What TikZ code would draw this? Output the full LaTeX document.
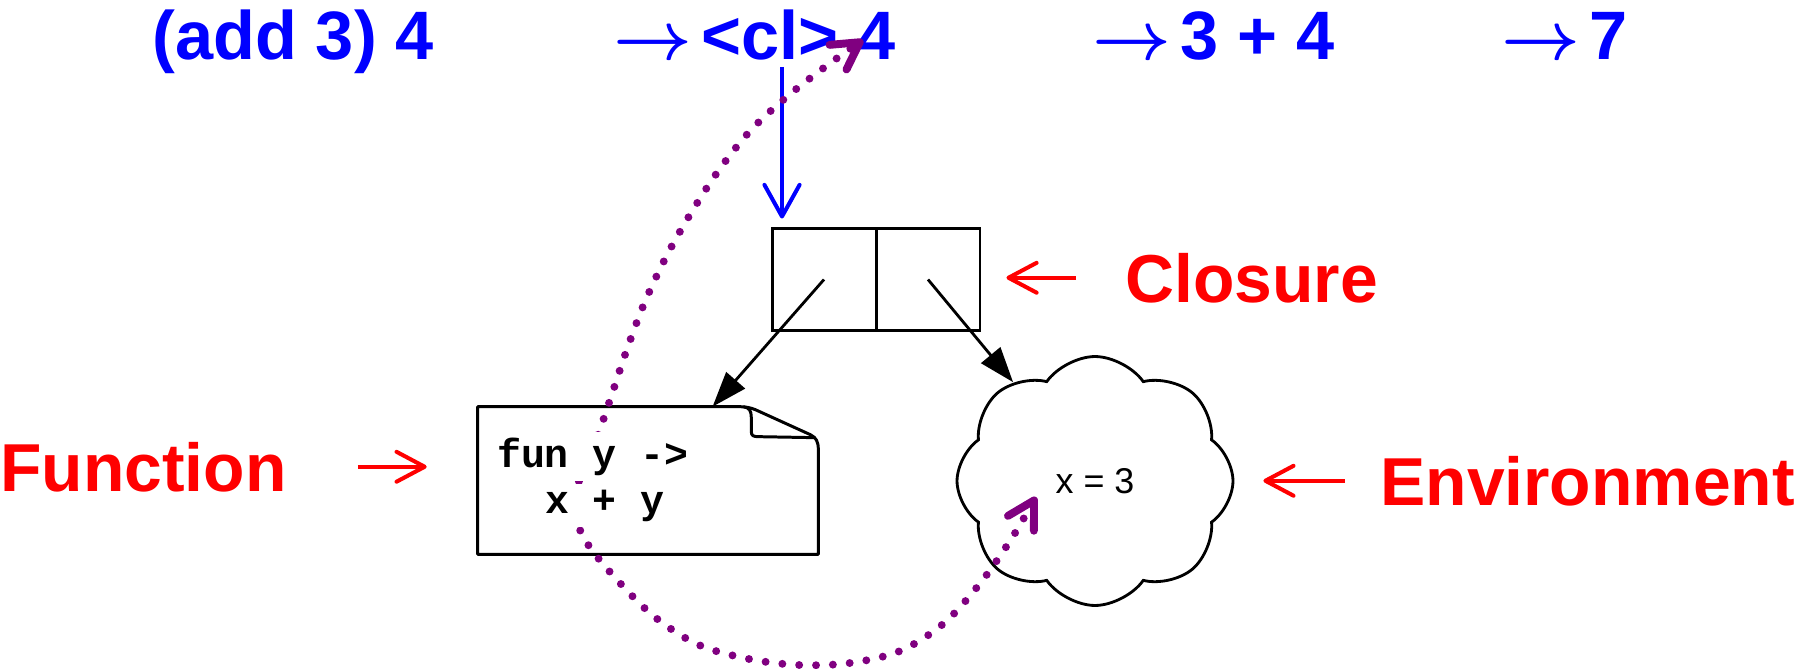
\documentclass[tikz,border=0pt]{standalone}
\usepackage{fix-cm}
\usepackage{fontspec}
\setmainfont{Liberation Sans}
\setmonofont{Liberation Mono}
\usetikzlibrary{arrows.meta,shapes.symbols,calc}
\definecolor{ppl}{RGB}{128,0,128}
\newcommand{\arrgap}{\hspace{0.14em}}
\begin{document}
\begin{tikzpicture}[x=0.02cm,y=-0.02cm,
  toptext/.style={text=blue, font=\fontsize{39}{46}\selectfont\bfseries\boldmath, inner sep=0pt, anchor=base west},
  lbl/.style={text=red, font=\fontsize{38.6}{46}\selectfont\bfseries, inner sep=0pt, anchor=base west},
  codetext/.style={font=\fontsize{22.7}{26}\selectfont\ttfamily\bfseries, inner xsep=1pt, inner ysep=3pt, fill=white, anchor=base west},
  cell/.style={draw, line width=1.7pt, minimum width=2.08cm, minimum height=2.06cm, inner sep=0pt},
  ptr/.style={line width=1.6pt, -{Triangle[length=20pt,width=14pt]}},
  bluearr/.style={blue, line width=2.3pt, -{Straight Barb[length=18pt,width=20pt,round]}},
  redarr/.style={red, line width=2.3pt, -{Straight Barb[length=16pt,width=17pt,round]}},
  trail/.style={ppl, line width=4.5pt, line cap=round, dash pattern=on 0pt off 9.6pt,
     arrows={Straight Barb[length=15pt,width=17pt,round]-Straight Barb[length=15pt,width=17pt,round]}},
  outline/.style={line width=1.7pt, line join=round}
]
\useasboundingbox (0,0) rectangle (1799,669);

% top row
\node[toptext] (t1) at (152,60) {(add 3) 4};
\node[toptext] (t2) at (613,60) {$\rightarrow$\arrgap<cl> 4};
\node[toptext] (t3) at (1092,60) {$\rightarrow$\arrgap3 + 4};
\node[toptext] (t4) at (1501,60) {$\rightarrow$\arrgap7};

% closure cells
\node[cell] (cl1) at (824,279.5) {};
\node[cell] (cl2) at (928,279.5) {};

% function box
\node[minimum width=6.8cm, minimum height=2.94cm, inner sep=0pt] (func) at (648,480.5) {};
\draw[outline] (func.south west) -- (func.north west) -- ($(func.north east)+(-81,0)$)
  .. controls ($(func.north east)+(-72,0)$) and ($(func.north east)+(-68,1)$) .. ($(func.north east)+(-63,3)$)
  -- ($(func.north east)+(-8,28)$)
  .. controls ($(func.north east)+(-2,31)$) and ($(func.north east)+(0,35)$) .. ($(func.north east)+(0,43)$)
  -- (func.south east) -- cycle;
\draw[outline] ($(func.north east)+(-75,0)$)
  .. controls ($(func.north east)+(-69,1)$) and ($(func.north east)+(-67,4)$) .. ($(func.north east)+(-67,11)$)
  -- ($(func.north east)+(-67,25)$)
  .. controls ($(func.north east)+(-67,29)$) and ($(func.north east)+(-65,30)$) .. ($(func.north east)+(-60,30)$)
  -- ($(func.north east)+(-3,31)$);

% environment cloud
\node[draw, cloud, cloud puffs=8, cloud puff arc=110, aspect=1.1, minimum width=5.52cm, minimum height=4.98cm,
      line width=1.6pt, inner sep=0pt, font=\fontsize{20.4}{24}\selectfont] (env) at (1095,481) {x = 3};

% pointers
\draw[ptr] (cl1.center) -- (func);
\draw[ptr] (cl2.center) -- (env);

% blue arrow
\coordinate (clref) at (782,67);
\draw[bluearr, shorten >=0.16cm] (clref) -- (clref |- cl1.north);

% labels
\node[lbl] (closure) at (1125,302) {Closure};
\node[lbl] (function) at (0,491) {Function};
\node[lbl] (environment) at (1380,505) {Environment};
\draw[redarr, shorten <=0.98cm, shorten >=0.5cm] (closure.west) -- (closure.west -| cl2.east);
\draw[redarr, shorten <=1.42cm, shorten >=1.02cm] (function.east) -- (function.east -| func.west);
\draw[redarr, shorten <=0.7cm, shorten >=0.58cm] (environment.west) -- (environment.west -| env.east);

% purple trail
\coordinate (pEnv) at (1036,497);
\coordinate (pTop) at (863,40);
\draw[trail] plot[smooth, tension=0.55] coordinates {(pEnv) (1008,544) (978,586) (943,624) (900,651) (850,663) (799,665) (749,659) (699,645) (656,618) (619,582) (587,543) (574,510) (580,478) (593,449) (610,400) (626,352) (644,304) (666,257) (691,213) (719,170) (751,130) (789,95) (829,64) (pTop)};

% code text
\node[codetext] (code1) at (495,467) {fun y ->};
\node[codetext] (code2) at (543,513) {x + y};
\end{tikzpicture}
\end{document}
